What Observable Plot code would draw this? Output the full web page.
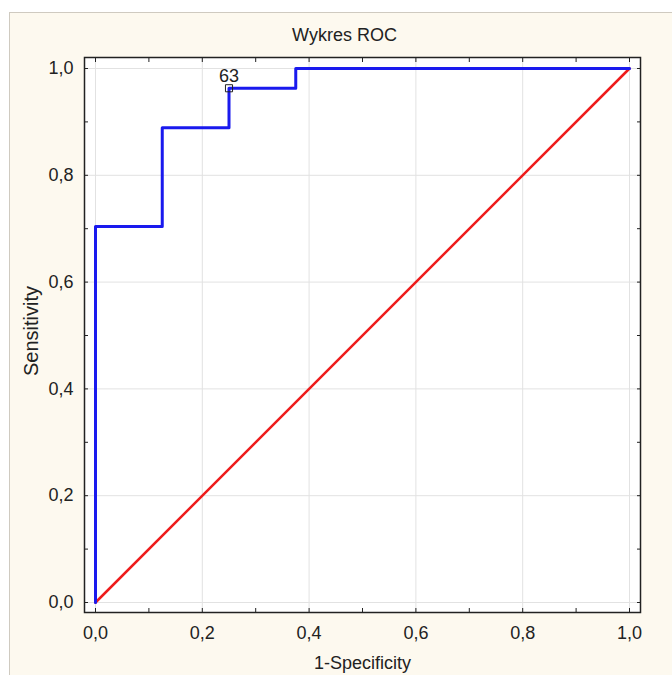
<!DOCTYPE html>
<html>
<head>
<meta charset="utf-8">
<script src="https://cdn.jsdelivr.net/npm/d3@7"></script>
<script src="https://cdn.jsdelivr.net/npm/@observablehq/plot@0.6"></script>
<style>
  html, body { margin: 0; padding: 0; background: #ffffff; }
  #chart svg { position: absolute; left: 9px; top: 12px; border-left: 1px solid #cfcac0; border-top: 1px solid #cfcac0; }
</style>
</head>
<body>
<div id="chart"></div>
<script>
// ROC curve vertices (1-Specificity, Sensitivity)
const fpr = [0, 0, 0.125, 0.125, 0.25, 0.25, 0.375, 0.375, 1];
const tpr = [0, 0.704, 0.704, 0.889, 0.889, 0.963, 0.963, 1, 1];
// Reference diagonal
const diagX = [0, 1];
const diagY = [0, 1];
// Optimal cut-off point
const cutX = [0.25];
const cutY = [0.963];
const cutLabel = ["63"];
// Ticks
const majorTicks = [0, 0.2, 0.4, 0.6, 0.8, 1.0];
const minorTicks = [0, 0.1, 0.2, 0.3, 0.4, 0.5, 0.6, 0.7, 0.8, 0.9, 1.0];
const titleText = "Wykres ROC";
const xLabel = "1-Specificity";
const yLabel = "Sensitivity";

const roc = fpr.map((x, i) => ({x, y: tpr[i]}));
const diag = diagX.map((x, i) => ({x, y: diagY[i]}));
const cut = cutX.map((x, i) => ({x, y: cutY[i], label: cutLabel[i]}));
const fmt = d => d.toFixed(1).replace(".", ",");

const chart = Plot.plot({
  width: 662,
  height: 662,
  marginLeft: 74,
  marginRight: 32,
  marginTop: 44,
  marginBottom: 63,
  style: {background: "#fdf9ef", fontSize: "18px", fontFamily: "'Liberation Sans', Arial, sans-serif", color: "#222"},
  x: {domain: [0, 1], insetLeft: 11, insetRight: 11},
  y: {domain: [0, 1], insetTop: 11, insetBottom: 10},
  marks: [
    Plot.frame({fill: "#ffffff"}),
    Plot.gridX(majorTicks, {stroke: "#e2e2e2", strokeOpacity: 1}),
    Plot.gridY(majorTicks, {stroke: "#e2e2e2", strokeOpacity: 1}),
    Plot.axisX({anchor: "bottom", ticks: minorTicks, tickSize: -4, tickFormat: null, text: null, label: null, stroke: "#222"}),
    Plot.axisX({anchor: "top", ticks: minorTicks, tickSize: -4, tickFormat: null, text: null, label: null, stroke: "#222"}),
    Plot.axisY({anchor: "left", ticks: minorTicks, tickSize: -4, tickFormat: null, text: null, label: null, stroke: "#222"}),
    Plot.axisY({anchor: "right", ticks: minorTicks, tickSize: -4, tickFormat: null, text: null, label: null, stroke: "#222"}),
    Plot.axisX({anchor: "bottom", ticks: majorTicks, tickSize: 0, tickPadding: 14, tickFormat: fmt, label: null, fill: "#222"}),
    Plot.axisY({anchor: "left", ticks: majorTicks, tickSize: 0, tickPadding: 11, tickFormat: fmt, label: null, fill: "#222"}),
    Plot.frame({stroke: "#222", strokeWidth: 1.5}),
    Plot.text(cut, {x: "x", y: "y", text: "label", dy: -12, lineAnchor: "middle", fill: "#222"}),
    Plot.line(diag, {x: "x", y: "y", stroke: "#ee1c1c", strokeWidth: 2.5}),
    Plot.line(roc, {x: "x", y: "y", stroke: "#1a1aee", strokeWidth: 3}),
    Plot.dot(cut, {x: "x", y: "y", symbol: "square", r: 4, stroke: "#222", fill: "none", strokeWidth: 1}),
    Plot.text([titleText], {frameAnchor: "top", dy: -22, dx: -18, lineAnchor: "middle", fill: "#222"}),
    Plot.text([xLabel], {frameAnchor: "bottom", dy: 51, lineAnchor: "middle", fill: "#222"}),
    Plot.text([yLabel], {frameAnchor: "left", dx: -53, dy: -4, rotate: -90, textAnchor: "middle", lineAnchor: "middle", fontSize: 20, fill: "#222"})
  ]
});
document.getElementById("chart").appendChild(chart);
</script>
</body>
</html>
